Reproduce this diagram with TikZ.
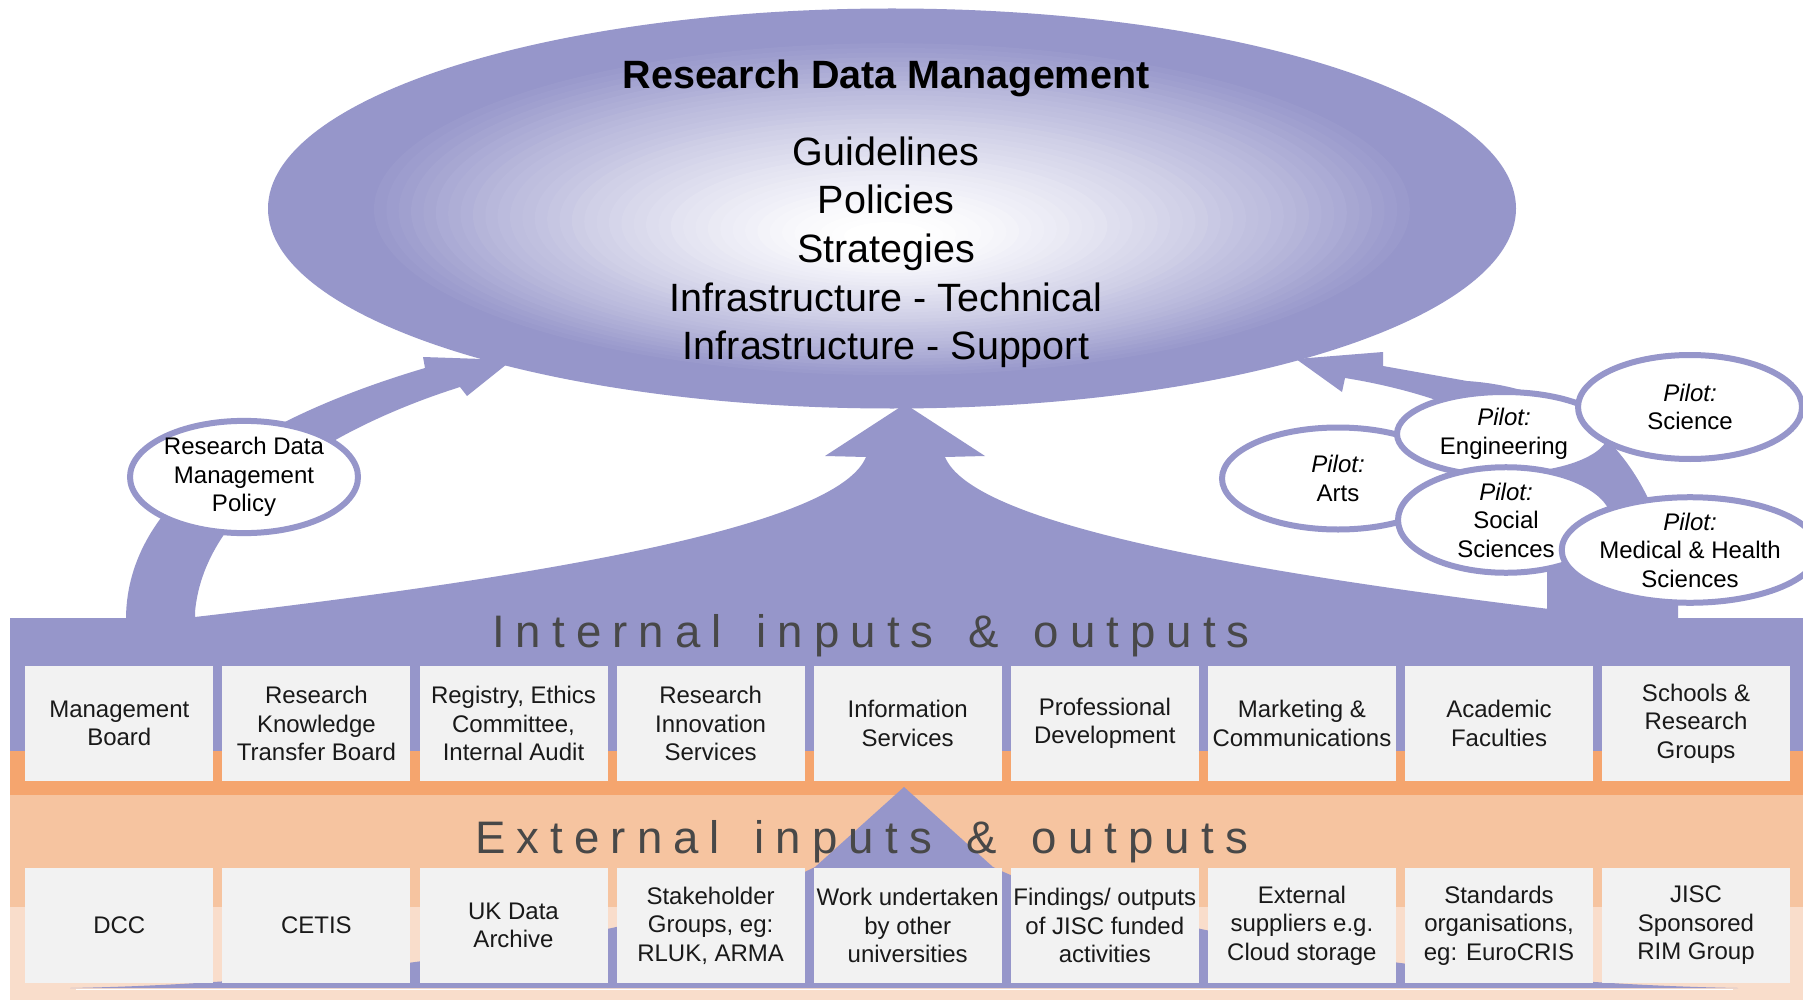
\documentclass[tikz,border=0pt]{standalone}
\usepackage{fontspec}
\setmainfont{Liberation Sans}
\newfontfamily\spacedfont[LetterSpace=24.3]{Liberation Sans}
\usetikzlibrary{shapes.geometric}
\definecolor{lav}{RGB}{150,150,202}
\definecolor{orng}{RGB}{245,165,110}
\definecolor{peach}{RGB}{246,196,160}
\definecolor{lpeach}{RGB}{249,221,203}
\definecolor{boxgrey}{RGB}{242,242,242}
\definecolor{bandtext}{RGB}{72,72,72}
\newcommand{\wsp}{\hspace{11pt}}
\begin{document}
\begin{tikzpicture}[x=1pt,y=-1pt,
  box/.style={fill=boxgrey, minimum width=188pt, minimum height=115pt, inner sep=0pt, align=center, font=\fontsize{24}{28.5}\selectfont, text=black!90},
  pilot/.style={ellipse, draw=lav, line width=6pt, fill=white, inner sep=0pt, align=center, font=\fontsize{24}{28.5}\selectfont},
  bigtext/.style={anchor=base, font=\fontsize{39.5}{48}\selectfont},
  bandlabel/.style={anchor=base west, font=\spacedfont\fontsize{45.6}{50}\selectfont, text=bandtext, inner sep=0pt}
]
\useasboundingbox (0,0) rectangle (1803,1000);
\fill[white] (0,0) rectangle (1803,1000);
% bands
\fill[lav] (10,618) rectangle (1803,751);
\fill[orng] (10,751) rectangle (1803,795);
\fill[peach] (10,795) rectangle (1803,907);
\fill[lpeach] (10,907) rectangle (1803,1000);
% big central arrow
\fill[lav] (195,625) -- (195,617) .. controls (600,570) and (840,520) .. (866,457) -- (825,456) -- (905,404) -- (985,456) -- (945,457) .. controls (971,520) and (1211,570) .. (1616,617) -- (1616,625) -- cycle;
% left curved arrow
\fill[lav] (126,625) -- (126,617) .. controls (128,500) and (250,420) .. (425,368) -- (423,357) -- (512,360) -- (467,396) -- (460,387) .. controls (340,425) and (205,500) .. (195,612) -- (195,625) -- cycle;
% right curved arrow
\fill[lav] (1547,625) -- (1547,567) -- (1560,530) .. controls (1585,455) and (1470,398) .. (1345,378) -- (1342,392) -- (1296,359) -- (1383,352) -- (1383,366) -- (1467,381) .. controls (1600,390) and (1660,480) .. (1678,600) -- (1678,625) -- cycle;
% main ellipse with radial gradient
\node[ellipse, minimum width=1248pt, minimum height=400pt, inner sep=0pt, outer sep=0pt, fill=lav] (rdm) at (892,208.5) {};
\foreach \i in {0,...,39} {
  \pgfmathsetmacro\s{0.85-0.02*\i}
  \pgfmathsetmacro\t{1-\s/0.85}
  \pgfmathtruncatemacro\p{100*pow((\s-0.05)/0.8,1.3)}
  \pgfmathsetmacro\cx{892-5*\t}
  \pgfmathsetmacro\cy{208.5+30*\t}
  \pgfmathsetmacro\rx{624*\s}
  \pgfmathsetmacro\ry{200*\s}
  \fill[lav!\p!white] (\cx,\cy) ellipse [x radius=\rx pt, y radius=\ry pt];
}
\node[bigtext, font=\bfseries\fontsize{39.5}{48}\selectfont] (title) at (886,89) {Research Data Management};
\node[bigtext] (g1) at (886,166) {Guidelines};
\node[bigtext] (g2) at (886,214) {Policies};
\node[bigtext] (g3) at (886,262) {Strategies};
\node[bigtext] (g4) at (886,311) {Infrastructure - Technical};
\node[bigtext] (g5) at (886,359) {Infrastructure - Support};
% lower arrow
\fill[lav] (70,988) .. controls (450,981) and (740,905) .. (815,867) -- (904,787) -- (993,867) .. controls (1068,905) and (1358,981) .. (1738,988) -- cycle;
\draw[white, line width=1.5pt] (76,989.5) -- (1733,989.5);
% internal boxes
\node[box] (i1) at (119.3,723.5) {Management\\Board};
\node[box] (i2) at (316.4,723.5) {Research\\Knowledge\\Transfer Board};
\node[box] (i3) at (513.5,723.5) {Registry, Ethics\\Committee,\\Internal Audit};
\node[box] (i4) at (710.6,723.5) {Research\\Innovation\\Services};
\node[box] (i5) at (907.7,723.5) {Information\\Services};
\node[box] (i6) at (1104.8,723.5) {Professional\\Development};
\node[box] (i7) at (1301.9,723.5) {Marketing \&\\Communications};
\node[box] (i8) at (1499,723.5) {Academic\\Faculties};
\node[box] (i9) at (1696,723.5) {Schools \&\\Research\\Groups};
% external boxes
\node[box] (e1) at (119.3,925.5) {DCC};
\node[box] (e2) at (316.4,925.5) {CETIS};
\node[box] (e3) at (513.5,925.5) {UK Data\\Archive};
\node[box] (e4) at (710.6,925.5) {Stakeholder\\Groups, eg:\\RLUK, ARMA};
\node[box] (e5) at (907.7,925.5) {Work undertaken\\by other\\universities};
\node[box] (e6) at (1104.8,925.5) {Findings/ outputs\\of JISC funded\\activities};
\node[box] (e7) at (1301.9,925.5) {External\\suppliers e.g.\\Cloud storage};
\node[box] (e8) at (1499,925.5) {Standards\\organisations,\\eg: EuroCRIS};
\node[box] (e9) at (1696,925.5) {JISC\\Sponsored\\RIM Group};
% band labels
\node[bandlabel] (intl) at (492,647) {Internal\wsp{} inputs\wsp{} \&\wsp{} outputs};
\node[bandlabel] (extl) at (475,853) {External\wsp{} inputs\wsp{} \&\wsp{} outputs};
% policy and pilots
\node[pilot, minimum width=228pt, minimum height=102pt] (pol) at (244,477) {Research Data\\Management\\Policy};
\node[pilot, minimum width=232pt, minimum height=102pt] (arts) at (1338,478.5) {\textit{Pilot:}\\Arts};
\node[pilot, minimum width=214pt, minimum height=84pt] (eng) at (1504,434) {\textit{Pilot:}\\Engineering};
\node[pilot, minimum width=216pt, minimum height=94pt] (soc) at (1506,520) {\textit{Pilot:}\\Social\\Sciences};
\node[pilot, minimum width=224pt, minimum height=104pt] (sci) at (1690,407) {\textit{Pilot:}\\Science};
\node[pilot, minimum width=224pt, minimum height=94pt] (med) at (1690,550) {\textit{Pilot:}\\Medical \& Health\\Sciences};
\end{tikzpicture}
\end{document}
